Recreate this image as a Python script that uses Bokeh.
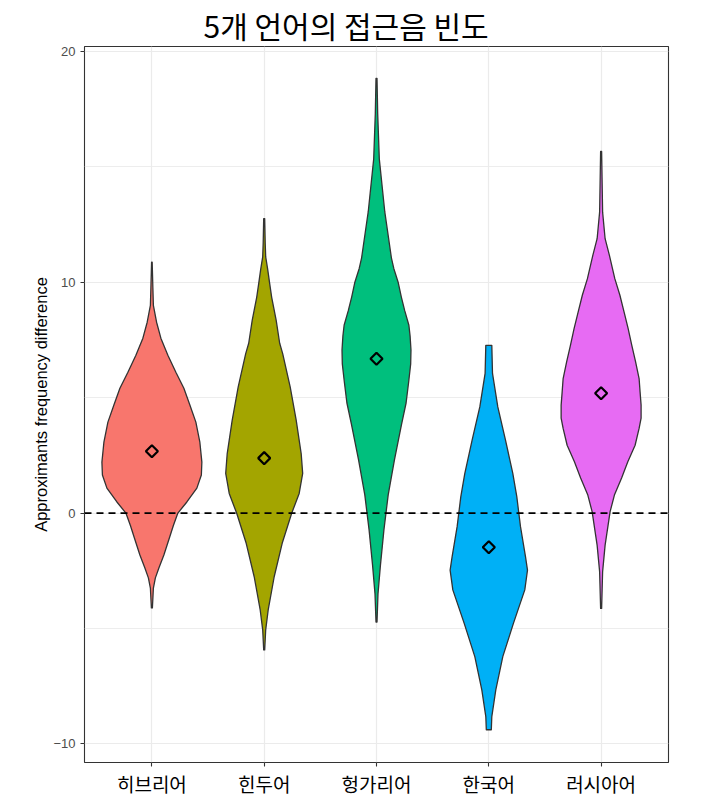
import math
from bokeh.plotting import figure
from bokeh.models import Range1d, FixedTicker, Span, ColumnDataSource
from bokeh.embed import file_html
from bokeh.resources import INLINE

# ---- data ----
languages = ["히브리어", "힌두어", "헝가리어", "한국어", "러시아어"]
fill_colors = ["#F8766D", "#A3A500", "#00BF7D", "#00B0F6", "#E76BF3"]

hebrew_y = [10.87, 9.74, 9.0, 8.27, 7.58, 6.84, 6.10, 5.41, 4.68, 3.94, 3.07, 2.21,
            1.65, 1.08, 0.48, 0.0, -0.54, -1.08, -1.82, -2.38, -2.81, -3.25, -4.11]
hebrew_density = [0.006, 0.02, 0.03, 0.094, 0.18, 0.32, 0.48, 0.64, 0.76, 0.88, 0.96, 1.0,
                  0.99, 0.90, 0.70, 0.52, 0.43, 0.35, 0.24, 0.14, 0.07, 0.03, 0.01]

hindi_y = [12.76, 11.71, 11.10, 10.56, 9.94, 9.35, 8.35, 7.36, 6.91, 5.47, 4.03, 2.58,
           1.72, 0.85, -0.01, -1.31, -2.76, -4.2, -5.06, -5.93]
hindi_density = [0.01, 0.02, 0.03, 0.07, 0.11, 0.15, 0.24, 0.31, 0.37, 0.52, 0.64, 0.74,
                 0.77, 0.70, 0.55, 0.36, 0.20, 0.08, 0.03, 0.01]

hungarian_y = [18.84, 17.3, 15.35, 13.05, 11.06, 10.6, 9.98, 9.37, 8.76, 8.14, 7.68,
               7.07, 6.46, 5.69, 4.77, 3.85, 2.32, 0.79, -0.74, -2.28, -3.5, -4.72]
hungarian_density = [0.01, 0.024, 0.056, 0.166, 0.298, 0.346, 0.436, 0.496, 0.566, 0.648,
                     0.672, 0.69, 0.684, 0.644, 0.592, 0.502, 0.36, 0.234, 0.148, 0.078,
                     0.03, 0.01]

korean_y = [7.27, 6.05, 4.60, 3.16, 1.72, 0.71, -0.59, -1.89, -2.47, -3.33, -4.77,
            -6.22, -7.66, -8.82, -9.39]
korean_density = [0.06, 0.074, 0.18, 0.334, 0.48, 0.56, 0.634, 0.734, 0.774, 0.72, 0.494,
                  0.28, 0.14, 0.06, 0.05]

russian_y = [15.67, 13.04, 11.89, 11.17, 10.16, 9.44, 8.71, 8.0, 7.27, 6.55, 5.83, 5.24,
             4.68, 4.11, 3.67, 2.94, 2.22, 1.52, 0.78, 0.06, -1.39, -2.54, -4.13]
russian_density = [0.01, 0.03, 0.08, 0.166, 0.274, 0.376, 0.46, 0.54, 0.614, 0.69, 0.76,
                   0.78, 0.80, 0.80, 0.76, 0.68, 0.534, 0.41, 0.266, 0.18, 0.08, 0.03, 0.01]

means = [2.68, 2.38, 6.69, -1.48, 5.19]

y_ticks = [-10, 0, 10, 20]
y_minor_ticks = [-5, 5, 15]
title_text = "5개 언어의 접근음 빈도"
y_label = "Approximants frequency difference"

# ---- build violins ----
profiles = [(hebrew_y, hebrew_density), (hindi_y, hindi_density),
            (hungarian_y, hungarian_density), (korean_y, korean_density),
            (russian_y, russian_density)]
MAX_HALF = 0.445
xs, ys = [], []
for i, (yy, dd) in enumerate(profiles):
    c = i + 1
    right = [c + MAX_HALF * d for d in dd]
    left = [c - MAX_HALF * d for d in dd]
    xs.append(right + left[::-1])
    ys.append(list(yy) + list(yy)[::-1])

positions = list(range(1, len(languages) + 1))

p = figure(width=719, height=799, output_backend="svg", toolbar_location=None,
           x_range=Range1d(0.4, 5.6), y_range=Range1d(-10.81, 20.22),
           min_border_left=84, min_border_right=51, min_border_top=46,
           min_border_bottom=37, background_fill_color="white",
           border_fill_color="white")

p.title.text = title_text
p.title.align = "left"
p.title.offset = 119
p.title.text_font = "Noto Sans CJK KR"
p.title.text_font_size = "30px"
p.title.text_font_style = "normal"
p.title.text_color = "black"
p.title.standoff = 0

p.outline_line_color = "#333333"
p.outline_line_width = 1.1

# axes
p.xaxis.ticker = FixedTicker(ticks=positions)
p.xaxis.major_label_overrides = {pos: lab for pos, lab in zip(positions, languages)}
p.yaxis.ticker = FixedTicker(ticks=y_ticks, minor_ticks=y_minor_ticks)
p.yaxis.major_label_overrides = {t: (str(t).replace("-", "\u2212")) for t in y_ticks}

for ax in (p.xaxis, p.yaxis):
    ax.axis_line_color = None
    ax.major_tick_in = 0
    ax.major_tick_out = 4
    ax.major_tick_line_color = "#333333"
    ax.major_tick_line_width = 1.1
    ax.minor_tick_line_color = None

p.xaxis.major_label_text_font = "Noto Sans CJK KR"
p.xaxis.major_label_text_font_size = "19px"
p.xaxis.major_label_text_color = "black"
p.xaxis.major_label_standoff = 3

p.yaxis.major_label_text_font = "Liberation Sans"
p.yaxis.major_label_text_font_size = "13px"
p.yaxis.major_label_text_color = "#4D4D4D"
p.yaxis.major_label_standoff = 5
p.yaxis.axis_label = y_label
p.yaxis.axis_label_text_font = "Liberation Sans"
p.yaxis.axis_label_text_font_size = "16.5px"
p.yaxis.axis_label_text_font_style = "normal"
p.yaxis.axis_label_text_color = "black"
p.yaxis.axis_label_standoff = 0

# grids
p.xgrid.grid_line_color = "#EBEBEB"
p.xgrid.grid_line_width = 1.2
p.ygrid.grid_line_color = "#EBEBEB"
p.ygrid.grid_line_width = 1.2
p.ygrid.minor_grid_line_color = "#EBEBEB"
p.ygrid.minor_grid_line_width = 0.9

# violins
src = ColumnDataSource(dict(xs=xs, ys=ys, fill=fill_colors))
p.patches("xs", "ys", source=src, fill_color="fill", line_color="#333333",
          line_width=1.3, line_join="round")

# reference line at 0
p.add_layout(Span(location=0, dimension="width", line_color="black",
                  line_dash="7 5", line_width=1.7))

# means
p.scatter(x=positions, y=means, marker="square", angle=math.pi / 4, size=8.5,
          fill_color=None, line_color="black", line_width=2.2)

open("out.html", "w").write(file_html(p, INLINE))
